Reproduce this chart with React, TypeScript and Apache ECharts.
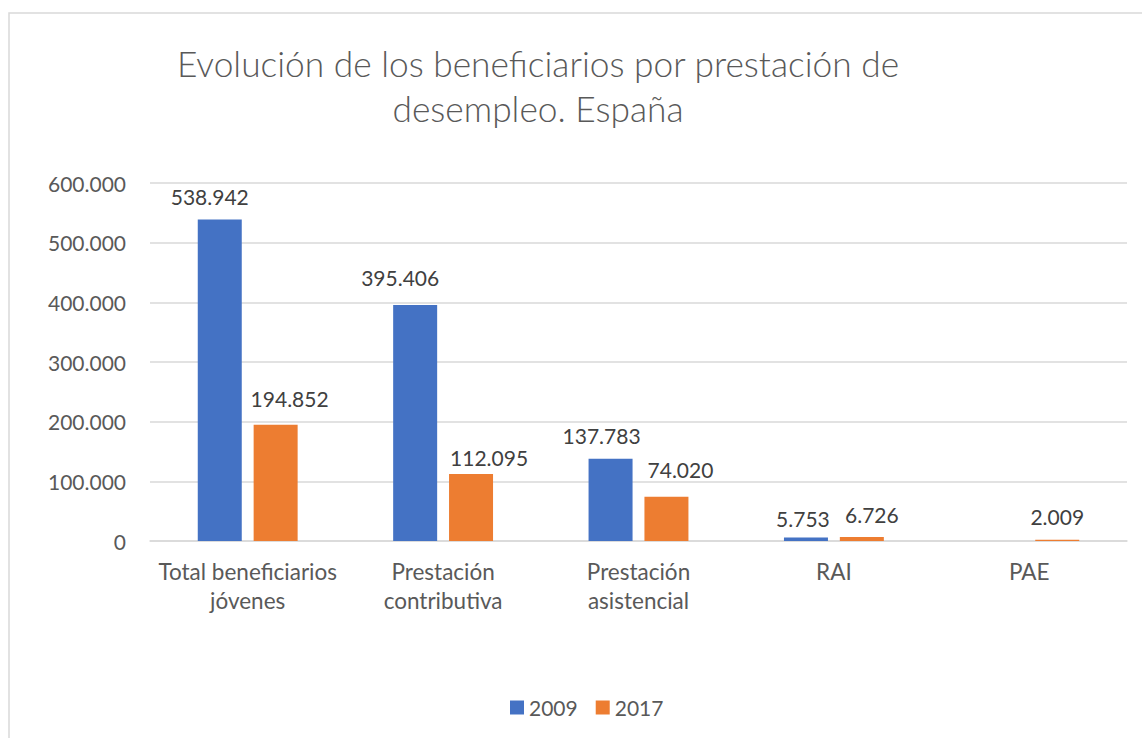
import React, { useEffect, useRef } from "react";
import * as echarts from "echarts";

const titleText = "Evolución de los beneficiarios por prestación de\ndesempleo. España";
const categories = ["Total beneficiarios\njóvenes", "Prestación\ncontributiva", "Prestación\nasistencial", "RAI", "PAE"];
const seriesNames = ["2009", "2017"];
const values2009: (number | null)[] = [538942, 395406, 137783, 5753, null];
const values2017: (number | null)[] = [194852, 112095, 74020, 6726, 2009];
const labelShift2009: [number, number][] = [[-10, 1], [-15, -4], [-9, 0], [-3, 4], [0, 0]];
const labelShift2017: [number, number][] = [[14, -3], [18, 7], [14, -4], [10, 1], [0, 0]];

const FONT = "Lato";
const GREY = "#595959";

function fmt(v: number): string {
  const s = Math.round(v).toString();
  return s.replace(/\B(?=(\d{3})+(?!\d))/g, ".");
}

function buildData(vals: (number | null)[], shifts: [number, number][]) {
  return vals.map((v, i) => ({
    value: v,
    label: { offset: shifts[i] },
  }));
}

export default function App() {
  const ref = useRef<HTMLDivElement>(null);
  useEffect(() => {
    if (!ref.current) return;
    const chart = echarts.init(ref.current, undefined, { renderer: "svg" });
    const labelStyle = {
      show: true,
      position: "top" as const,
      distance: 13,
      color: "#404040",
      fontFamily: FONT,
      fontSize: 21,
      formatter: (p: any) => (p.value == null ? "" : fmt(p.value)),
    };
    chart.setOption({
      animation: false,
      backgroundColor: "#ffffff",
      color: ["#4472C4", "#ED7D31"],
      title: {
        text: titleText,
        left: 533,
        top: 36,
        textAlign: "center",
        textStyle: {
          fontFamily: FONT,
          fontSize: 35.3,
          fontWeight: 300,
          color: GREY,
          lineHeight: 45,
        },
      },
      graphic: [
        {
          type: "rect",
          shape: { x: 9, y: 13, width: 1300, height: 900 },
          style: { fill: "none", stroke: "#d9d9d9", lineWidth: 1.5 },
          silent: true,
          z: -1,
        },
      ],
      legend: {
        data: seriesNames,
        left: 505,
        top: 692,
        itemWidth: 14,
        itemHeight: 14,
        itemGap: 18,
        icon: "rect",
        textStyle: { fontFamily: FONT, fontSize: 21, color: GREY },
      },
      grid: { left: 150, right: 15, top: 183, bottom: 197, containLabel: false },
      xAxis: {
        type: "category",
        data: categories,
        axisLine: { lineStyle: { color: "#d9d9d9", width: 1.5 } },
        axisTick: { show: false },
        axisLabel: {
          fontFamily: FONT,
          fontSize: 22.5,
          color: GREY,
          lineHeight: 29,
          margin: 16,
          interval: 0,
        },
      },
      yAxis: {
        type: "value",
        min: 0,
        max: 600000,
        interval: 100000,
        axisLine: { show: false },
        axisTick: { show: false },
        splitLine: { lineStyle: { color: "#d9d9d9", width: 1.5 } },
        axisLabel: {
          fontFamily: FONT,
          fontSize: 21,
          color: GREY,
          margin: 24,
          formatter: (v: number) => fmt(v),
        },
      },
      series: [
        {
          name: seriesNames[0],
          type: "bar",
          data: buildData(values2009, labelShift2009),
          barWidth: 44,
          barGap: "27%",
          label: labelStyle,
        },
        {
          name: seriesNames[1],
          type: "bar",
          data: buildData(values2017, labelShift2017),
          barWidth: 44,
          barGap: "27%",
          label: labelStyle,
        },
      ],
    });
    return () => chart.dispose();
  }, []);
  return (
    <div
      ref={ref}
      style={{ position: "absolute", left: 0, top: 0, width: 1142, height: 738 }}
    />
  );
}
